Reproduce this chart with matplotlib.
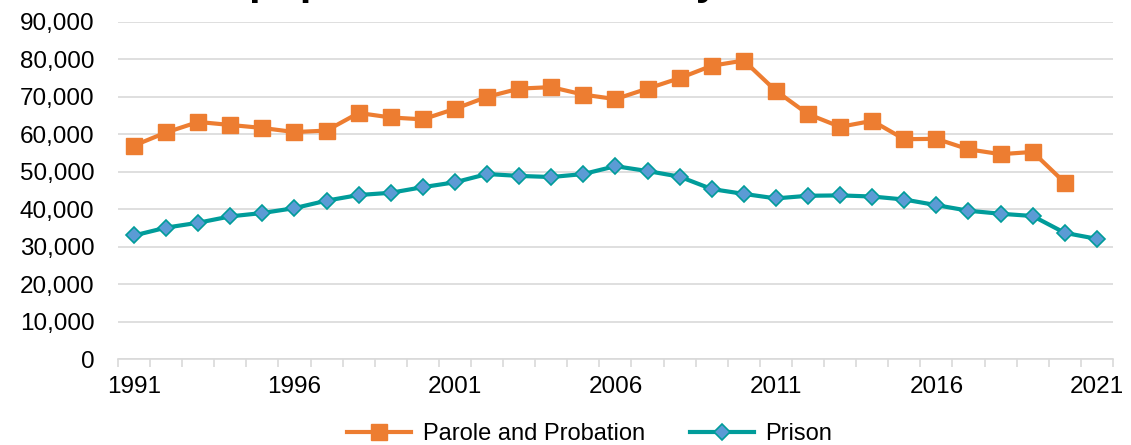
import numpy as np
import matplotlib.pyplot as plt
from matplotlib.ticker import FuncFormatter, MultipleLocator

plt.rcParams['font.family'] = ['Liberation Sans', 'DejaVu Sans']

# Data
years_parole = list(range(1991, 2021))
parole = [57000, 60500, 63300, 62500, 61700, 60600, 61000, 65700, 64500, 64000,
          66800, 70000, 72200, 72600, 70600, 69400, 72200, 75000, 78300, 79700,
          71600, 65400, 62000, 63600, 58700, 58800, 56000, 54700, 55300, 47100]

years_prison = list(range(1991, 2022))
prison = [33000, 35100, 36400, 38100, 39000, 40300, 42300, 43800, 44400, 45900,
          47200, 49400, 48900, 48600, 49400, 51500, 50200, 48700, 45400, 44100,
          42900, 43600, 43700, 43400, 42600, 41100, 39600, 38800, 38200, 33700,
          32100]

label_years = [1991, 1996, 2001, 2006, 2011, 2016, 2021]

fig = plt.figure(figsize=(11.31, 4.45), dpi=100)
ax = fig.add_axes([0.1043, 0.193, 0.8797, 0.7577])

ax.plot(years_parole, parole, color='#ED7D31', lw=3, marker='s', markersize=11,
        markerfacecolor='#ED7D31', markeredgecolor='#ED7D31',
        label='Parole and Probation', zorder=3)
ax.plot(years_prison, prison, color='#009C9A', lw=3, marker='D', markersize=8.5,
        markerfacecolor='#5B9BD5', markeredgecolor='#009C9A', markeredgewidth=1.2,
        label='Prison', zorder=3)

ax.set_ylim(0, 90000)
ax.set_xlim(1990.5, 2021.5)
ax.yaxis.set_major_locator(MultipleLocator(10000))
ax.yaxis.set_major_formatter(FuncFormatter(lambda v, p: f'{int(v):,}'))
ax.grid(axis='y', color='#D9D9D9', lw=1.2)
ax.set_axisbelow(True)

ax.set_xticks(label_years)
ax.set_xticklabels([str(y) for y in label_years])
ax.set_xticks(np.arange(1990.5, 2022, 1), minor=True)
ax.tick_params(axis='x', which='major', length=0, pad=12, labelsize=17.5)
ax.tick_params(axis='x', which='minor', length=6, width=1.2, color='#D9D9D9')
ax.tick_params(axis='y', length=0, pad=17, labelsize=17.5)

for s in ['left', 'right', 'top']:
    ax.spines[s].set_visible(False)
ax.spines['bottom'].set_color('#D9D9D9')
ax.spines['bottom'].set_linewidth(1.2)

# title sits above the visible canvas, only its descenders show (as in the original)
fig.text(0.125, 1.013, 'Total population over time by status', fontsize=30,
         fontweight='bold', ha='left', va='baseline')

fig.legend(loc='center', bbox_to_anchor=(0.5214, 0.024), ncol=2, frameon=False,
           fontsize=17, handlelength=2.7, handletextpad=0.5, columnspacing=1.9)

fig.savefig('out.png', dpi=100)
